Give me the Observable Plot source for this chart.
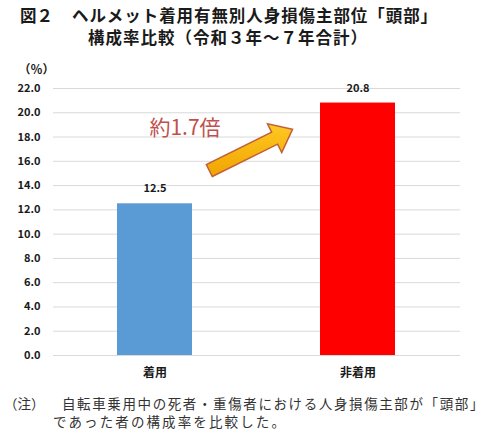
<!DOCTYPE html>
<html><head><meta charset="utf-8">
<script src="https://cdn.jsdelivr.net/npm/d3@7"></script>
<script src="https://cdn.jsdelivr.net/npm/@observablehq/plot@0.6"></script>
<style>
body{margin:0;background:#fff;font-family:"Noto Sans CJK JP",sans-serif;}
#wrap{position:relative;width:490px;height:445px;overflow:hidden}
.t{position:absolute;font-weight:bold;font-size:16.5px;line-height:22px;color:#1a1a1a;white-space:nowrap}
.n{position:absolute;font-size:13.5px;line-height:18px;color:#333;white-space:nowrap}
#chart{position:absolute;left:0;top:55px}
</style></head><body>
<div id="wrap">
<div class="t" id="t0" style="left:20px;top:4px"></div>
<div class="t" id="t1" style="left:72px;top:4px" data-w="366"></div>
<div class="t" id="t2" style="left:88px;top:26px" data-w="280"></div>
<div id="chart"></div>
<div class="n" id="n0" style="left:4px;top:394px"></div>
<div class="n" id="n1" style="left:62px;top:394px" data-w="423"></div>
<div class="n" id="n2" style="left:53px;top:412px" data-w="234"></div>
</div>
<script>
// ---- data ----
const categories = ["着用", "非着用"];
const values = [12.5, 20.8];
const barColors = ["#5b9bd5", "#ff0000"];
const yTicks = [0, 2, 4, 6, 8, 10, 12, 14, 16, 18, 20, 22];
const yUnit = "（％）";
const titleLines = ["図２", "ヘルメット着用有無別人身損傷主部位「頭部」", "構成率比較（令和３年～７年合計）"];
const noteLines = ["（注）", "自転車乗用中の死者・重傷者における人身損傷主部が「頭部」", "であった者の構成率を比較した。"];
const ratioText = "約1.7倍";
const ratioY = [18.7];
const arrowFrom = [0.27, 15.2]; // fraction between bar centres, value
const arrowTo = [0.68, 18.6];

document.getElementById("t0").textContent = titleLines[0];
document.getElementById("t1").textContent = titleLines[1];
document.getElementById("t2").textContent = titleLines[2];
document.getElementById("n0").textContent = noteLines[0];
document.getElementById("n1").textContent = noteLines[1];
document.getElementById("n2").textContent = noteLines[2];
document.querySelectorAll("[data-w]").forEach(el => {
  const w = +el.dataset.w;
  const nat = el.getBoundingClientRect().width;
  const n = [...el.textContent].length;
  el.style.letterSpacing = ((w - nat) / n) + "px";
});

const data = categories.map((c, i) => ({cat: c, v: values[i], color: barColors[i]}));
const font = '"Noto Sans CJK JP", sans-serif';

const plot = Plot.plot({
  width: 490, height: 330,
  marginTop: 33, marginBottom: 30, marginLeft: 53, marginRight: 30,
  style: {fontFamily: font, fontSize: "11px", fontWeight: "bold", color: "#1a1a1a", background: "#fff"},
  x: {domain: categories, paddingInner: 0.63, paddingOuter: 0.315, label: null},
  y: {domain: [0, 22], label: null},
  marks: [
    Plot.gridY(yTicks, {stroke: "#d9d9d9", strokeOpacity: 1}),
    Plot.barY(data, {x: "cat", y: "v", fill: "color"}),
    Plot.text(data, {x: "cat", y: "v", text: d => d.v.toFixed(1), dy: -15, fontSize: 11, fontWeight: "bold", fill: "#1a1a1a"}),
    Plot.axisY(yTicks, {tickSize: 0, tickPadding: 13, tickFormat: d => d.toFixed(1), fontSize: 11, fontWeight: "bold", label: null}),
    Plot.axisX({tickSize: 0, tickPadding: 13, fontSize: 12, fontWeight: "bold", label: null}),
    Plot.text([yUnit], {frameAnchor: "top-left", dx: -17, dy: -23, fontSize: 12, fontWeight: "bold", textAnchor: "middle"}),
    Plot.text(ratioY, {x: () => categories[0], y: d => d, text: () => ratioText, dx: 30, fontSize: 21, fontWeight: "normal", fill: "#c0504d"})
  ]
});
document.getElementById("chart").appendChild(plot);

// block arrow via the plot's own scales
const xs = plot.scale("x"), ys = plot.scale("y");
const c0 = xs.apply(categories[0]) + xs.bandwidth / 2;
const c1 = xs.apply(categories[1]) + xs.bandwidth / 2;
const T = [c0 + (c1 - c0) * arrowFrom[0], ys.apply(arrowFrom[1])];
const P = [c0 + (c1 - c0) * arrowTo[0], ys.apply(arrowTo[1])];
const dx = P[0] - T[0], dy = P[1] - T[1], L = Math.hypot(dx, dy);
const u = [dx / L, dy / L], nrm = [-u[1], u[0]];
const hw = 6.7, hh = 16, hl = 20;
const H = [P[0] - u[0] * hl, P[1] - u[1] * hl];
const pt = (b, k) => [b[0] + nrm[0] * k, b[1] + nrm[1] * k];
const pts = [pt(T, hw), pt(H, hw), pt(H, hh), P, pt(H, -hh), pt(H, -hw), pt(T, -hw)];
const svg = d3.select(plot);
const defs = svg.append("defs");
const g = defs.append("linearGradient").attr("id", "ag").attr("x1", "0").attr("y1", "0").attr("x2", "0").attr("y2", "1");
g.append("stop").attr("offset", "0").attr("stop-color", "#ffc823");
g.append("stop").attr("offset", "1").attr("stop-color", "#f0a400");
svg.append("polygon")
  .attr("points", pts.map(p => p.join(",")).join(" "))
  .attr("fill", "url(#ag)")
  .attr("stroke", "#c0603a")
  .attr("stroke-width", 1.5)
  .attr("stroke-linejoin", "miter");
</script>
</body></html>
